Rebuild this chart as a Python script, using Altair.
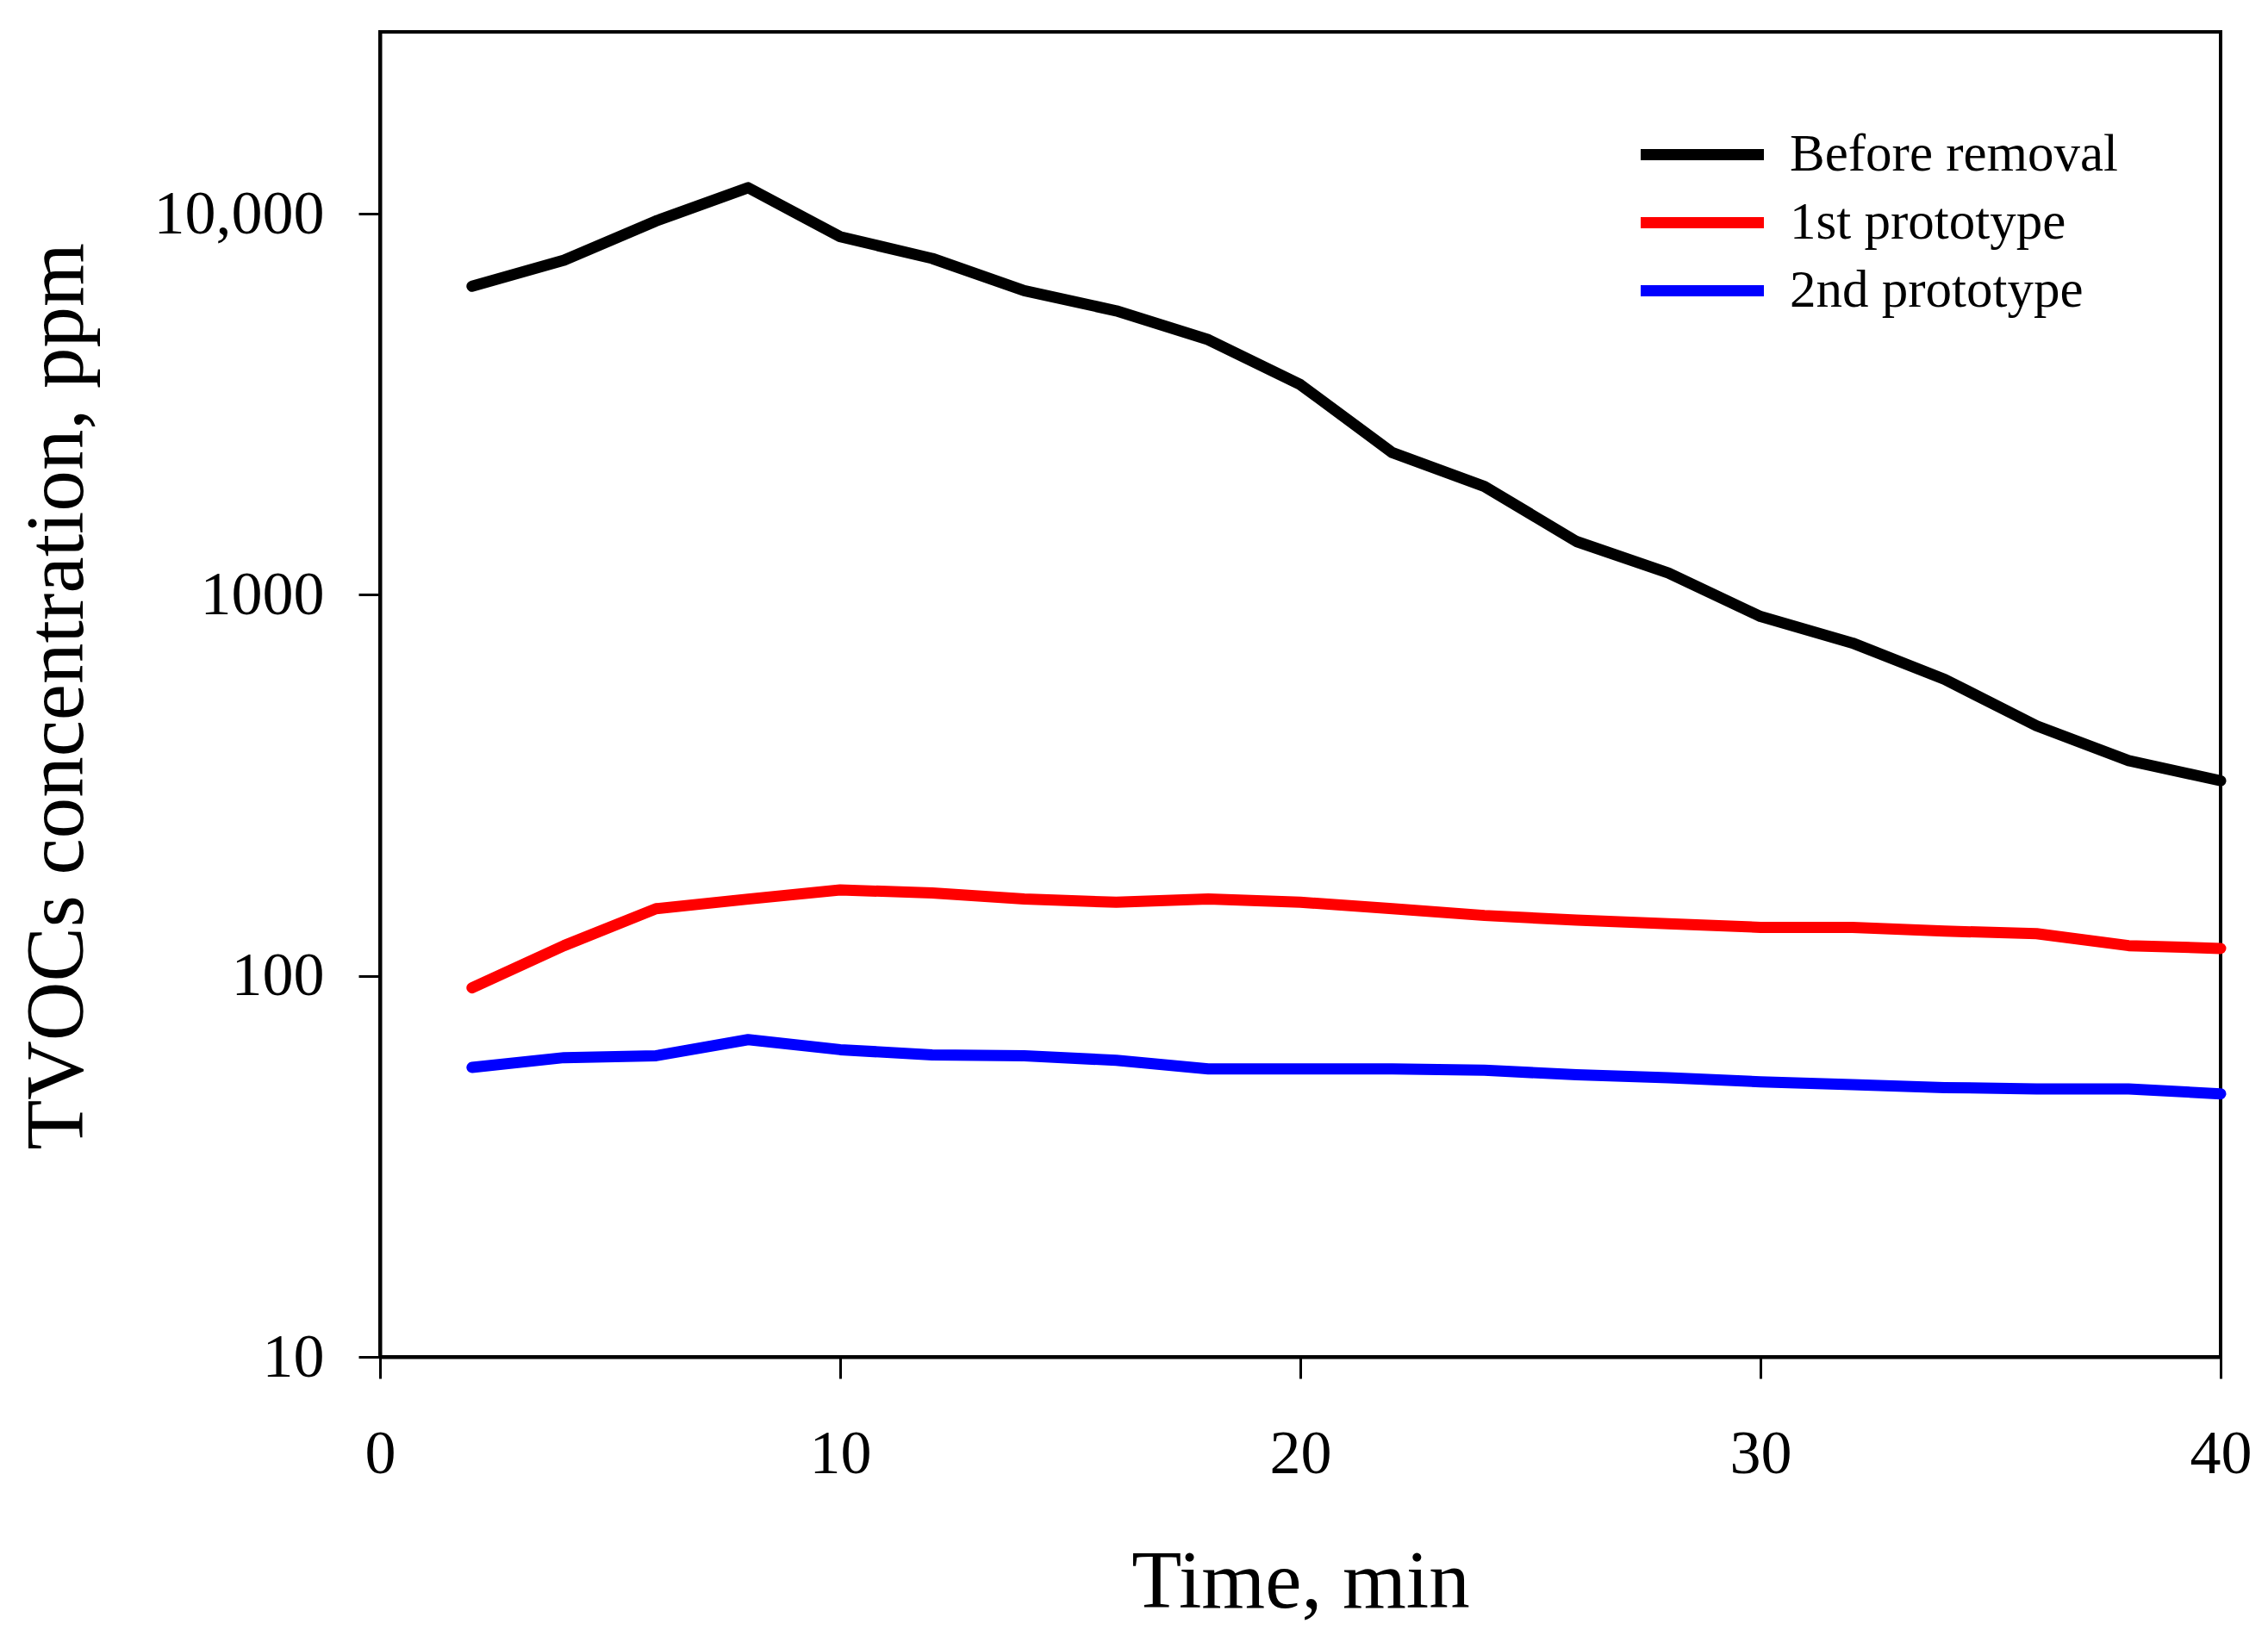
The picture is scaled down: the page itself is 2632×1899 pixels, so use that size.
import altair as alt
import pandas as pd

# ---- data ----
time_min = [2, 4, 6, 8, 10, 12, 14, 16, 18, 20, 22, 24, 26, 28, 30, 32, 34, 36, 38, 40]
before_removal = [6450, 7550, 9570, 11700, 8700, 7630, 6280, 5560, 4670, 3560,
                  2360, 1925, 1380, 1140, 877, 747, 600, 453, 367, 325]
prototype_1 = [93, 120, 150, 159, 168, 165, 159, 156, 159, 156,
               150, 144, 140, 137, 134, 134, 131, 129, 120, 118]
prototype_2 = [57.5, 61, 61.7, 68, 64, 62, 61.7, 60, 57, 57,
               57, 56.5, 55, 54, 52.7, 51.8, 50.9, 50.5, 50.5, 49]

series_names = ["Before removal", "1st prototype", "2nd prototype"]
series_colors = ["#000000", "#ff0000", "#0000ff"]
x_ticks = [0, 10, 20, 30, 40]
y_ticks = [10, 100, 1000, 10000]

rows = []
for name, vals in zip(series_names, [before_removal, prototype_1, prototype_2]):
    for t, v in zip(time_min, vals):
        rows.append({"time": t, "value": v, "series": name})
df = pd.DataFrame(rows)

FONT = "Liberation Serif"

chart = alt.Chart(df).mark_line(
    strokeWidth=13, strokeCap="round", strokeJoin="round"
).encode(
    x=alt.X(
        "time:Q",
        scale=alt.Scale(domain=[0, 40], nice=False, zero=False),
        axis=alt.Axis(
            values=x_ticks, title="Time, min", format="d",
            labelPadding=52, titleY=290, titleBaseline="alphabetic",
        ),
    ),
    y=alt.Y(
        "value:Q",
        scale=alt.Scale(type="log", domain=[10, 30000], nice=False),
        axis=alt.Axis(
            values=y_ticks, title="TVOCs concentration, ppm",
            labelExpr="datum.value >= 10000 ? '10,000' : format(datum.value, 'd')",
            labelPadding=40, labelLimit=0,
            titleX=-346, titleY=771, titleBaseline="alphabetic",
        ),
    ),
    color=alt.Color(
        "series:N",
        scale=alt.Scale(domain=series_names, range=series_colors),
        sort=series_names,
        legend=alt.Legend(
            title=None, orient="none", legendX=1492, legendY=100,
            symbolType="M-2,0H2", symbolSize=5112, symbolStrokeWidth=13,
            labelFont=FONT, labelFontSize=61, labelColor="black",
            labelOffset=59, rowPadding=6, padding=0, labelLimit=0,
        ),
    ),
).properties(
    width=2136, height=1538,
    autosize=alt.AutoSizeParams(type="none"),
    padding={"left": 433, "top": 29, "right": 47, "bottom": 316},
    background="white",
).configure_view(
    stroke="black", strokeWidth=4
).configure_axis(
    grid=False, domainColor="black", domainWidth=4,
    tickColor="black", tickWidth=3, tickSize=25,
    labelFont=FONT, labelFontSize=72, labelColor="black",
    titleFont=FONT, titleFontSize=95, titleFontWeight="normal", titleColor="black",
    labelFlush=False, labelOverlap=False,
)

chart.save("out.html", embed_options={"renderer": "svg", "actions": False})
